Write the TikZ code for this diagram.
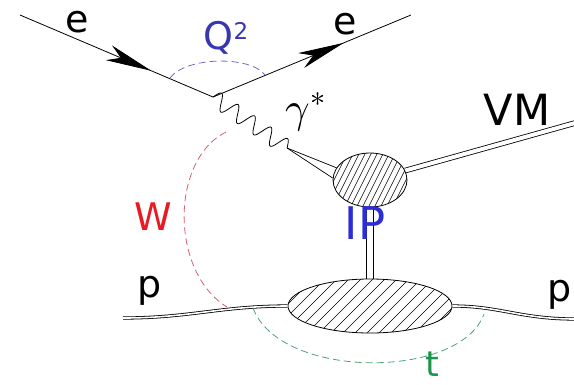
\documentclass[tikz,border=0pt]{standalone}
\usepackage{unicode-math}
\setmainfont{DejaVu Sans}
\setmathfont{Latin Modern Math}
\usetikzlibrary{decorations.markings,arrows.meta,shapes.geometric,backgrounds}
\definecolor{qblue}{RGB}{55,55,175}
\definecolor{qarc}{RGB}{110,110,200}
\definecolor{ipblue}{RGB}{45,45,215}
\definecolor{wred}{RGB}{232,25,35}
\definecolor{warc}{RGB}{220,90,110}
\definecolor{tgreen}{RGB}{25,150,75}
\definecolor{tarc}{RGB}{70,165,115}
\begin{document}
\begin{tikzpicture}[x=1pt,y=-1pt,
  fermion/.style={line width=0.8pt, postaction={decorate},
    decoration={markings, mark=at position #1 with {\arrow{Stealth[length=46pt,width=16pt,inset=13pt]}}}},
  photon/.style={line width=0.8pt},
  dbl/.style={line width=0.8pt, double=white, double distance=#1},
  blob/.style={ellipse, draw, fill=white, line width=0.8pt, inner sep=0pt},
  arcline/.style={line width=0.8pt, dash pattern=on 7pt off 4pt},
  lbl/.style={inner sep=0pt, font=\fontsize{38}{40}\selectfont}]
\useasboundingbox (0,0) rectangle (574,384);

% vertices and free ends
\coordinate (ein) at (20,15);
\coordinate (v) at (213,97);
\coordinate (eout) at (411,15);
\coordinate (ph) at (287,148);
\coordinate (vmend) at (575,123);
\coordinate (pin) at (123,318);
\coordinate (pout) at (575,319);

% blobs
\node[blob, minimum width=74pt, minimum height=54pt,
  path picture={\foreach \k in {-66,-60,...,66}
    \draw[line width=0.5pt] ([xshift=\k pt]path picture bounding box.center) +(-20pt,-40pt) -- +(20pt,40pt);}]
  (top) at (370,180) {};
\node[blob, minimum width=164pt, minimum height=54pt,
  path picture={\foreach \k in {-132,-120,...,132}
    \draw[line width=0.5pt] ([xshift=\k pt]path picture bounding box.center) +(-30pt,-30pt) -- +(30pt,30pt);}]
  (bot) at (370,306) {};

\begin{scope}[on background layer]
  \draw[dbl=4pt] (top.15) -- (vmend);
  \draw[line width=0.8pt] ([xshift=-3.5pt]top.south) -- ([xshift=-3.5pt]bot.north);
  \draw[line width=0.8pt] ([xshift=3.5pt]top.south) -- ([xshift=3.5pt]bot.north);
  \draw[line width=0.7pt] (ph) -- (top.160);
  \draw[line width=0.7pt] (ph) -- (top.177);
\end{scope}

% electron lines
\draw[fermion=0.68] (ein) -- (v);
\draw[fermion=0.66] (v) -- (eout);
% photon (v) to (ph)
\begin{scope}[shift={(v)}, x={(0.823pt,-0.567pt)}, y={(0.567pt,0.823pt)}]
  \draw[photon] plot[domain=0:90, samples=160, smooth] (\x,{8*sin(\x*18)});
\end{scope}
% proton lines
\draw[dbl=1.6pt] (pin) .. controls (190,318) and (220,306) .. (bot.west);
\draw[dbl=1.6pt] (bot.east) .. controls (500,306) and (520,319) .. (pout);

% kinematic arcs
\coordinate (qa) at (170,78);
\coordinate (qb) at (265,75);
\draw[arcline, qarc] (qa) .. controls (185,57) and (250,55) .. (qb);
\coordinate (wa) at (226,132);
\coordinate (wb) at (227,307);
\draw[arcline, warc] (wa) .. controls (170,160) and (170,272) .. (wb);
\coordinate (ta) at (253,308);
\coordinate (tb) at (484,314);
\draw[arcline, tarc] (ta) .. controls (280,380) and (460,380) .. (tb);

% labels
\node[lbl] (eL) at (77,22) {e};
\node[lbl] (eR) at (345,24) {e};
\node[lbl, text=qblue] (Q) at (226,38) {Q\raisebox{10pt}{\fontsize{23}{23}\selectfont 2}};
\node[inner sep=0pt] (g) at (306,112) {\fontsize{43}{43}\selectfont$\gamma^{*}$};
\node[lbl, font=\fontsize{43}{45}\selectfont] (VM) at (517,110) {VM};
\node[lbl, text=ipblue, font=\fontsize{45}{47}\selectfont] (IP) at (365,223) {IP};
\node[lbl, text=wred] (W) at (153,217) {W};
\node[lbl] (pL) at (150,291) {p};
\node[lbl] (pR) at (560,295) {p};
\node[lbl, text=tgreen, font=\fontsize{35}{37}\selectfont] (t) at (432,364) {t};
\end{tikzpicture}
\end{document}
